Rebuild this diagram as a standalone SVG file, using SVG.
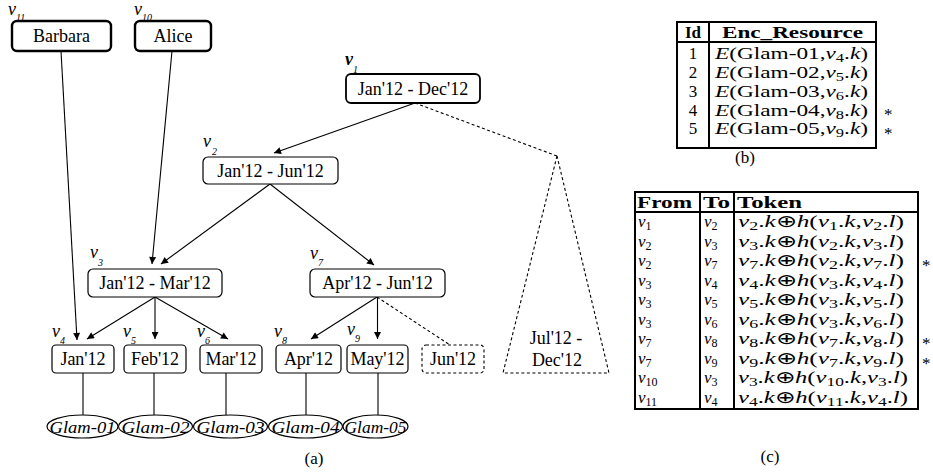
<svg xmlns="http://www.w3.org/2000/svg" width="933" height="473" viewBox="0 0 933 473">
<style>
.nd{fill:#fff;stroke:#000;stroke-width:1.2}
.thick{stroke-width:2.4}
.med{stroke-width:1.8}
.dnd{fill:#fff;stroke:#000;stroke-width:1.1;stroke-dasharray:3 2.5}
.t{font-family:"Liberation Serif","Times New Roman",serif;font-size:18px;text-anchor:middle;fill:#000}
.gi{font-family:"Liberation Serif","Times New Roman",serif;font-size:17px;font-style:italic;text-anchor:middle;fill:#000}
.lv{font-family:"Liberation Serif","Times New Roman",serif;font-size:18px;font-style:italic;fill:#000}
.ls{font-family:"Liberation Serif","Times New Roman",serif;font-size:10px;font-style:italic;fill:#000}
.e{stroke:#000;stroke-width:1.1;fill:none}
.ed{stroke:#000;stroke-width:1.1;fill:none;stroke-dasharray:3 2.5}
.tb{fill:none;stroke:#000;stroke-width:2}
.tx{font-family:"Liberation Serif","Times New Roman",serif;font-size:17px;fill:#000}
.hb{font-weight:bold}
.i{font-style:italic}
.cap{font-family:"Liberation Serif","Times New Roman",serif;font-size:17px;text-anchor:middle;fill:#000}
</style>
<defs>
<marker id="ar" viewBox="0 0 10 10" refX="10" refY="5" markerWidth="8" markerHeight="7" markerUnits="userSpaceOnUse" orient="auto">
<path d="M0,0 L10,5 L0,10 z" fill="#000"/>
</marker>
</defs>

<g id="connectors">
<line class="e" x1="61" y1="51" x2="77" y2="340" marker-end="url(#ar)"/>
<line class="e" x1="172" y1="51" x2="152" y2="264" marker-end="url(#ar)"/>
<line class="e" x1="415" y1="103" x2="274" y2="153" marker-end="url(#ar)"/>
<line class="ed" x1="415" y1="103" x2="557" y2="156"/>
<line class="e" x1="270" y1="184" x2="161" y2="264" marker-end="url(#ar)"/>
<line class="e" x1="270" y1="184" x2="374" y2="265" marker-end="url(#ar)"/>
<line class="e" x1="155" y1="297" x2="87" y2="339" marker-end="url(#ar)"/>
<line class="e" x1="155" y1="297" x2="155" y2="339" marker-end="url(#ar)"/>
<line class="e" x1="155" y1="297" x2="228" y2="339" marker-end="url(#ar)"/>
<line class="e" x1="377" y1="297" x2="311" y2="339" marker-end="url(#ar)"/>
<line class="e" x1="377.5" y1="297" x2="377.5" y2="339" marker-end="url(#ar)"/>
<line class="ed" x1="377" y1="297" x2="450" y2="345"/>
<line class="e" x1="83" y1="373" x2="83" y2="415"/>
<line class="e" x1="154" y1="373" x2="154" y2="415"/>
<line class="e" x1="226" y1="373" x2="226" y2="415"/>
<line class="e" x1="306" y1="373" x2="306" y2="415"/>
<line class="e" x1="378" y1="373" x2="378" y2="415"/>
</g>

<g id="v11">
<rect class="nd thick" x="12" y="21" width="99" height="30" rx="5"/>
<text class="t" x="61.5" y="42">Barbara</text>
<text class="lv" x="8" y="15" font-size="15">v</text><text class="ls" x="16" y="21">11</text>
</g>
<g id="v10">
<rect class="nd thick" x="135" y="21" width="76" height="30" rx="5"/>
<text class="t" x="173" y="42">Alice</text>
<text class="lv" x="134" y="15" font-size="15">v</text><text class="ls" x="142" y="21">10</text>
</g>
<g id="v1">
<rect class="nd med" x="346" y="74" width="134" height="29" rx="5"/>
<text class="t" x="413" y="95">Jan'12 - Dec'12</text>
<text class="lv" x="345" y="65" font-weight="bold">v</text><text class="ls" x="353" y="73">1</text>
</g>
<g id="v2">
<rect class="nd" x="203" y="157" width="135" height="27" rx="5"/>
<text class="t" x="270.5" y="177">Jan'12 - Jun'12</text>
<text class="lv" x="203" y="147">v</text><text class="ls" x="212" y="155">2</text>
</g>
<g id="v3">
<rect class="nd" x="88" y="269" width="134" height="28" rx="5"/>
<text class="t" x="155" y="289">Jan'12 - Mar'12</text>
<text class="lv" x="90" y="258">v</text><text class="ls" x="98" y="266">3</text>
</g>
<g id="v7">
<rect class="nd" x="310" y="269" width="135" height="28" rx="5"/>
<text class="t" x="377.5" y="289">Apr'12 - Jun'12</text>
<text class="lv" x="310" y="259">v</text><text class="ls" x="318" y="266">7</text>
</g>
<g id="v4">
<rect class="nd" x="52" y="345" width="62" height="28" rx="4"/>
<text class="t" x="83" y="365">Jan'12</text>
<text class="lv" x="52" y="337">v</text><text class="ls" x="60" y="344">4</text>
</g>
<g id="v5">
<rect class="nd" x="124" y="345" width="62" height="28" rx="4"/>
<text class="t" x="155" y="365">Feb'12</text>
<text class="lv" x="123" y="337">v</text><text class="ls" x="131" y="344">5</text>
</g>
<g id="v6">
<rect class="nd" x="200" y="345" width="62" height="28" rx="4"/>
<text class="t" x="231" y="365">Mar'12</text>
<text class="lv" x="197" y="337">v</text><text class="ls" x="205" y="344">6</text>
</g>
<g id="v8">
<rect class="nd" x="276" y="345" width="65" height="28" rx="4"/>
<text class="t" x="308.5" y="365">Apr'12</text>
<text class="lv" x="274" y="337">v</text><text class="ls" x="282" y="344">8</text>
</g>
<g id="v9">
<rect class="nd" x="347" y="345" width="61" height="28" rx="4"/>
<text class="t" x="377.5" y="365">May'12</text>
<text class="lv" x="347" y="335">v</text><text class="ls" x="355" y="342">9</text>
</g>
<g id="jun">
<rect class="dnd" x="422" y="345" width="62" height="28" rx="4"/>
<text class="t" x="453" y="365">Jun'12</text>
</g>
<g id="julDec">
<polygon class="dnd" points="557,156 503,373 609,373"/>
<text class="t" x="556" y="344">Jul'12 -</text>
<text class="t" x="557" y="366">Dec'12</text>
</g>
<g id="glam01"><ellipse class="nd" cx="82.5" cy="426.5" rx="35.5" ry="11.5"/><text class="gi" x="82.5" y="432.5" textLength="66" lengthAdjust="spacingAndGlyphs">Glam-01</text></g>
<g id="glam02"><ellipse class="nd" cx="155.5" cy="426.5" rx="37" ry="11.5"/><text class="gi" x="155.5" y="432.5" textLength="68" lengthAdjust="spacingAndGlyphs">Glam-02</text></g>
<g id="glam03"><ellipse class="nd" cx="230.5" cy="426.5" rx="37" ry="11.5"/><text class="gi" x="230.5" y="432.5" textLength="68" lengthAdjust="spacingAndGlyphs">Glam-03</text></g>
<g id="glam04"><ellipse class="nd" cx="305.5" cy="426.5" rx="37" ry="11.5"/><text class="gi" x="305.5" y="432.5" textLength="68" lengthAdjust="spacingAndGlyphs">Glam-04</text></g>
<g id="glam05"><ellipse class="nd" cx="375.5" cy="426.5" rx="32.5" ry="11.5"/><text class="gi" x="375.5" y="432.5" textLength="62" lengthAdjust="spacingAndGlyphs">Glam-05</text></g>
<text class="cap" x="314" y="464">(a)</text>

<g id="tableB">
<rect class="tb" x="677" y="22" width="199" height="126"/>
<line class="tb" x1="677" y1="42" x2="876" y2="42"/>
<line class="tb" x1="709" y1="22" x2="709" y2="148"/>
<text class="tx hb" x="693" y="38" text-anchor="middle">Id</text>
<text class="tx hb" x="722" y="38" textLength="141" lengthAdjust="spacingAndGlyphs">Enc_Resource</text>
<text class="tx" x="693" y="59" text-anchor="middle">1</text>
<text class="tx" x="693" y="78" text-anchor="middle">2</text>
<text class="tx" x="693" y="97" text-anchor="middle">3</text>
<text class="tx" x="693" y="115.5" text-anchor="middle">4</text>
<text class="tx" x="693" y="134" text-anchor="middle">5</text>
<text class="tx" x="715" y="59" textLength="153" lengthAdjust="spacingAndGlyphs"><tspan class="i">E</tspan>(Glam-01,<tspan class="i">v</tspan><tspan font-size="12" dy="3">4</tspan><tspan dy="-3">.</tspan><tspan class="i">k</tspan>)</text>
<text class="tx" x="715" y="78" textLength="153" lengthAdjust="spacingAndGlyphs"><tspan class="i">E</tspan>(Glam-02,<tspan class="i">v</tspan><tspan font-size="12" dy="3">5</tspan><tspan dy="-3">.</tspan><tspan class="i">k</tspan>)</text>
<text class="tx" x="715" y="97" textLength="153" lengthAdjust="spacingAndGlyphs"><tspan class="i">E</tspan>(Glam-03,<tspan class="i">v</tspan><tspan font-size="12" dy="3">6</tspan><tspan dy="-3">.</tspan><tspan class="i">k</tspan>)</text>
<text class="tx" x="715" y="115.5" textLength="153" lengthAdjust="spacingAndGlyphs"><tspan class="i">E</tspan>(Glam-04,<tspan class="i">v</tspan><tspan font-size="12" dy="3">8</tspan><tspan dy="-3">.</tspan><tspan class="i">k</tspan>)</text>
<text class="tx" x="715" y="134" textLength="153" lengthAdjust="spacingAndGlyphs"><tspan class="i">E</tspan>(Glam-05,<tspan class="i">v</tspan><tspan font-size="12" dy="3">9</tspan><tspan dy="-3">.</tspan><tspan class="i">k</tspan>)</text>
<text class="tx" x="884" y="120">*</text>
<text class="tx" x="884" y="139">*</text>
</g>
<text class="cap" x="745" y="163">(b)</text>

<g id="tableC">
<rect class="tb" x="635" y="192" width="283" height="217"/>
<line class="tb" x1="635" y1="212" x2="918" y2="212"/>
<line class="tb" x1="700" y1="192" x2="700" y2="409"/>
<line class="tb" x1="734" y1="192" x2="734" y2="409"/>
<text class="tx hb" x="637" y="208" textLength="55" lengthAdjust="spacingAndGlyphs">From</text>
<text class="tx hb" x="703" y="208" textLength="27" lengthAdjust="spacingAndGlyphs">To</text>
<text class="tx hb" x="737" y="208" textLength="65" lengthAdjust="spacingAndGlyphs">Token</text>

<text class="tx" x="638" y="227"><tspan class="i">v</tspan><tspan font-size="12" dy="3">1</tspan></text>
<text class="tx" x="638" y="246.5"><tspan class="i">v</tspan><tspan font-size="12" dy="3">2</tspan></text>
<text class="tx" x="638" y="266"><tspan class="i">v</tspan><tspan font-size="12" dy="3">2</tspan></text>
<text class="tx" x="638" y="285.5"><tspan class="i">v</tspan><tspan font-size="12" dy="3">3</tspan></text>
<text class="tx" x="638" y="305"><tspan class="i">v</tspan><tspan font-size="12" dy="3">3</tspan></text>
<text class="tx" x="638" y="324.5"><tspan class="i">v</tspan><tspan font-size="12" dy="3">3</tspan></text>
<text class="tx" x="638" y="344"><tspan class="i">v</tspan><tspan font-size="12" dy="3">7</tspan></text>
<text class="tx" x="638" y="363.5"><tspan class="i">v</tspan><tspan font-size="12" dy="3">7</tspan></text>
<text class="tx" x="638" y="383"><tspan class="i">v</tspan><tspan font-size="12" dy="3">10</tspan></text>
<text class="tx" x="638" y="402.5"><tspan class="i">v</tspan><tspan font-size="12" dy="3">11</tspan></text>

<text class="tx" x="704" y="227"><tspan class="i">v</tspan><tspan font-size="12" dy="3">2</tspan></text>
<text class="tx" x="704" y="246.5"><tspan class="i">v</tspan><tspan font-size="12" dy="3">3</tspan></text>
<text class="tx" x="704" y="266"><tspan class="i">v</tspan><tspan font-size="12" dy="3">7</tspan></text>
<text class="tx" x="704" y="285.5"><tspan class="i">v</tspan><tspan font-size="12" dy="3">4</tspan></text>
<text class="tx" x="704" y="305"><tspan class="i">v</tspan><tspan font-size="12" dy="3">5</tspan></text>
<text class="tx" x="704" y="324.5"><tspan class="i">v</tspan><tspan font-size="12" dy="3">6</tspan></text>
<text class="tx" x="704" y="344"><tspan class="i">v</tspan><tspan font-size="12" dy="3">8</tspan></text>
<text class="tx" x="704" y="363.5"><tspan class="i">v</tspan><tspan font-size="12" dy="3">9</tspan></text>
<text class="tx" x="704" y="383"><tspan class="i">v</tspan><tspan font-size="12" dy="3">3</tspan></text>
<text class="tx" x="704" y="402.5"><tspan class="i">v</tspan><tspan font-size="12" dy="3">4</tspan></text>

<text class="tx" x="738" y="227" textLength="166" lengthAdjust="spacingAndGlyphs"><tspan class="i">v</tspan><tspan font-size="12" dy="3">2</tspan><tspan dy="-3">.</tspan><tspan class="i">k</tspan>⊕<tspan class="i">h</tspan>(<tspan class="i">v</tspan><tspan font-size="12" dy="3">1</tspan><tspan dy="-3">.</tspan><tspan class="i">k</tspan>,<tspan class="i">v</tspan><tspan font-size="12" dy="3">2</tspan><tspan dy="-3">.</tspan><tspan class="i">l</tspan>)</text>
<text class="tx" x="738" y="246.5" textLength="166" lengthAdjust="spacingAndGlyphs"><tspan class="i">v</tspan><tspan font-size="12" dy="3">3</tspan><tspan dy="-3">.</tspan><tspan class="i">k</tspan>⊕<tspan class="i">h</tspan>(<tspan class="i">v</tspan><tspan font-size="12" dy="3">2</tspan><tspan dy="-3">.</tspan><tspan class="i">k</tspan>,<tspan class="i">v</tspan><tspan font-size="12" dy="3">3</tspan><tspan dy="-3">.</tspan><tspan class="i">l</tspan>)</text>
<text class="tx" x="738" y="266" textLength="166" lengthAdjust="spacingAndGlyphs"><tspan class="i">v</tspan><tspan font-size="12" dy="3">7</tspan><tspan dy="-3">.</tspan><tspan class="i">k</tspan>⊕<tspan class="i">h</tspan>(<tspan class="i">v</tspan><tspan font-size="12" dy="3">2</tspan><tspan dy="-3">.</tspan><tspan class="i">k</tspan>,<tspan class="i">v</tspan><tspan font-size="12" dy="3">7</tspan><tspan dy="-3">.</tspan><tspan class="i">l</tspan>)</text>
<text class="tx" x="738" y="285.5" textLength="166" lengthAdjust="spacingAndGlyphs"><tspan class="i">v</tspan><tspan font-size="12" dy="3">4</tspan><tspan dy="-3">.</tspan><tspan class="i">k</tspan>⊕<tspan class="i">h</tspan>(<tspan class="i">v</tspan><tspan font-size="12" dy="3">3</tspan><tspan dy="-3">.</tspan><tspan class="i">k</tspan>,<tspan class="i">v</tspan><tspan font-size="12" dy="3">4</tspan><tspan dy="-3">.</tspan><tspan class="i">l</tspan>)</text>
<text class="tx" x="738" y="305" textLength="166" lengthAdjust="spacingAndGlyphs"><tspan class="i">v</tspan><tspan font-size="12" dy="3">5</tspan><tspan dy="-3">.</tspan><tspan class="i">k</tspan>⊕<tspan class="i">h</tspan>(<tspan class="i">v</tspan><tspan font-size="12" dy="3">3</tspan><tspan dy="-3">.</tspan><tspan class="i">k</tspan>,<tspan class="i">v</tspan><tspan font-size="12" dy="3">5</tspan><tspan dy="-3">.</tspan><tspan class="i">l</tspan>)</text>
<text class="tx" x="738" y="324.5" textLength="166" lengthAdjust="spacingAndGlyphs"><tspan class="i">v</tspan><tspan font-size="12" dy="3">6</tspan><tspan dy="-3">.</tspan><tspan class="i">k</tspan>⊕<tspan class="i">h</tspan>(<tspan class="i">v</tspan><tspan font-size="12" dy="3">3</tspan><tspan dy="-3">.</tspan><tspan class="i">k</tspan>,<tspan class="i">v</tspan><tspan font-size="12" dy="3">6</tspan><tspan dy="-3">.</tspan><tspan class="i">l</tspan>)</text>
<text class="tx" x="738" y="344" textLength="166" lengthAdjust="spacingAndGlyphs"><tspan class="i">v</tspan><tspan font-size="12" dy="3">8</tspan><tspan dy="-3">.</tspan><tspan class="i">k</tspan>⊕<tspan class="i">h</tspan>(<tspan class="i">v</tspan><tspan font-size="12" dy="3">7</tspan><tspan dy="-3">.</tspan><tspan class="i">k</tspan>,<tspan class="i">v</tspan><tspan font-size="12" dy="3">8</tspan><tspan dy="-3">.</tspan><tspan class="i">l</tspan>)</text>
<text class="tx" x="738" y="363.5" textLength="166" lengthAdjust="spacingAndGlyphs"><tspan class="i">v</tspan><tspan font-size="12" dy="3">9</tspan><tspan dy="-3">.</tspan><tspan class="i">k</tspan>⊕<tspan class="i">h</tspan>(<tspan class="i">v</tspan><tspan font-size="12" dy="3">7</tspan><tspan dy="-3">.</tspan><tspan class="i">k</tspan>,<tspan class="i">v</tspan><tspan font-size="12" dy="3">9</tspan><tspan dy="-3">.</tspan><tspan class="i">l</tspan>)</text>
<text class="tx" x="738" y="383" textLength="170" lengthAdjust="spacingAndGlyphs"><tspan class="i">v</tspan><tspan font-size="12" dy="3">3</tspan><tspan dy="-3">.</tspan><tspan class="i">k</tspan>⊕<tspan class="i">h</tspan>(<tspan class="i">v</tspan><tspan font-size="12" dy="3">10</tspan><tspan dy="-3">.</tspan><tspan class="i">k</tspan>,<tspan class="i">v</tspan><tspan font-size="12" dy="3">3</tspan><tspan dy="-3">.</tspan><tspan class="i">l</tspan>)</text>
<text class="tx" x="738" y="402.5" textLength="170" lengthAdjust="spacingAndGlyphs"><tspan class="i">v</tspan><tspan font-size="12" dy="3">4</tspan><tspan dy="-3">.</tspan><tspan class="i">k</tspan>⊕<tspan class="i">h</tspan>(<tspan class="i">v</tspan><tspan font-size="12" dy="3">11</tspan><tspan dy="-3">.</tspan><tspan class="i">k</tspan>,<tspan class="i">v</tspan><tspan font-size="12" dy="3">4</tspan><tspan dy="-3">.</tspan><tspan class="i">l</tspan>)</text>
<text class="tx" x="922" y="271">*</text>
<text class="tx" x="922" y="349">*</text>
<text class="tx" x="922" y="368.5">*</text>
</g>
<text class="cap" x="770" y="462">(c)</text>
</svg>
